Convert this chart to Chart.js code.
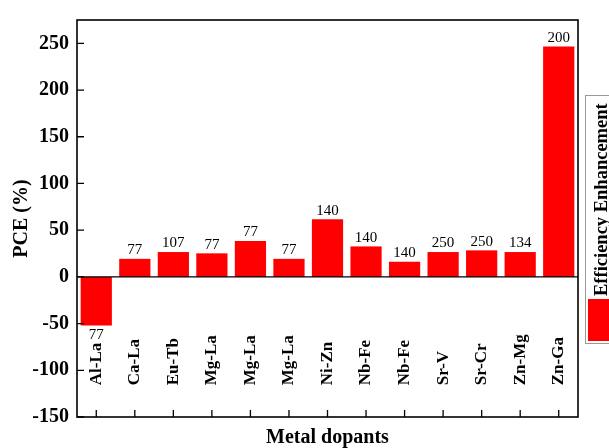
<!DOCTYPE html>
<html>
<head>
<meta charset="utf-8">
<script src="https://cdn.jsdelivr.net/npm/chart.js@4.4.1/dist/chart.umd.min.js"></script>
<style>
  html, body { margin: 0; padding: 0; background: #fff; }
  #wrap { width: 609px; height: 448px; }
</style>
</head>
<body>
<div id="wrap"><canvas id="pce"></canvas></div>
<script>
// dados
const dopants = ['Al-La', 'Ca-La', 'Eu-Tb', 'Mg-La', 'Mg-La', 'Mg-La', 'Ni-Zn', 'Nb-Fe', 'Nb-Fe', 'Sr-V', 'Sr-Cr', 'Zn-Mg', 'Zn-Ga'];
const pceValues = [-52, 19.3, 26.6, 25.2, 38.5, 19.3, 61.7, 32.6, 16.1, 26.6, 28.4, 26.6, 246.6];
const barLabels = ['77', '77', '107', '77', '77', '77', '140', '140', '140', '250', '250', '134', '200'];
const yTicks = [-150, -100, -50, 0, 50, 100, 150, 200, 250];
const seriesName = 'Efficiency Enhancement';

const serif = '"Liberation Serif", "Times New Roman", serif';
const red = 'rgb(255, 0, 0)';

// moldura, linha do zero, ticks para dentro, etiquetas e legenda
const decorPlugin = {
    id: 'decor',
    afterDatasetsDraw(chart) {
        const ctx = chart.ctx;
        const area = chart.chartArea;
        const x = chart.scales.x;
        const y = chart.scales.y;
        ctx.save();

        // linha do zero
        ctx.strokeStyle = '#000';
        ctx.lineWidth = 1.3;
        const y0 = y.getPixelForValue(0);
        ctx.beginPath();
        ctx.moveTo(area.left, y0);
        ctx.lineTo(area.right, y0);
        ctx.stroke();

        // valores por cima / por baixo das barras
        ctx.fillStyle = '#000';
        ctx.font = '15px ' + serif;
        ctx.textAlign = 'center';
        chart.getDatasetMeta(0).data.forEach((bar, i) => {
            if (pceValues[i] >= 0) {
                ctx.textBaseline = 'bottom';
                ctx.fillText(barLabels[i], bar.x, bar.y - 1);
            } else {
                ctx.textBaseline = 'top';
                ctx.fillText(barLabels[i], bar.x, bar.y + 2);
            }
        });

        // nomes das categorias (rodados, dentro do grafico)
        ctx.font = 'bold 17px ' + serif;
        ctx.textAlign = 'left';
        ctx.textBaseline = 'middle';
        const yName = y.getPixelForValue(-116);
        dopants.forEach((name, i) => {
            ctx.save();
            ctx.translate(x.getPixelForValue(i), yName);
            ctx.rotate(-Math.PI / 2);
            ctx.fillText(name, 0, 0);
            ctx.restore();
        });

        // ticks para dentro
        ctx.lineWidth = 1.3;
        ctx.beginPath();
        yTicks.forEach(v => {
            const py = y.getPixelForValue(v);
            ctx.moveTo(area.left, py);
            ctx.lineTo(area.left + 7, py);
        });
        dopants.forEach((d, i) => {
            const px = x.getPixelForValue(i);
            ctx.moveTo(px, area.bottom);
            ctx.lineTo(px, area.bottom - 7);
        });
        ctx.stroke();

        // moldura
        ctx.lineWidth = 1.6;
        ctx.strokeRect(area.left, area.top, area.right - area.left, area.bottom - area.top);

        // legenda (cortada na direita como no original)
        const lx = area.right + 7;
        ctx.strokeStyle = '#999';
        ctx.lineWidth = 1;
        ctx.strokeRect(lx + 0.5, 95.5, 40, 248);
        ctx.fillStyle = red;
        ctx.fillRect(lx + 3, 299, 30, 42);
        ctx.fillStyle = '#000';
        ctx.font = 'bold 18.5px ' + serif;
        ctx.save();
        ctx.translate(lx + 17, 296);
        ctx.rotate(-Math.PI / 2);
        ctx.textAlign = 'left';
        ctx.textBaseline = 'middle';
        ctx.fillText(seriesName, 0, 0);
        ctx.restore();

        ctx.restore();
    }
};

const chart = new Chart(document.getElementById('pce'), {
    type: 'bar',
    data: {
        labels: dopants,
        datasets: [{
            label: seriesName,
            data: pceValues,
            backgroundColor: red,
            borderWidth: 0,
            barPercentage: 0.81,
            categoryPercentage: 1
        }]
    },
    options: {
        responsive: true,
        maintainAspectRatio: false,
        animation: false,
        layout: { padding: { top: 13, right: 31, left: 0, bottom: 0 } },
        plugins: {
            legend: { display: false },
            tooltip: { enabled: false }
        },
        scales: {
            x: {
                grid: { display: false, drawTicks: false },
                border: { display: false },
                ticks: { display: false },
                title: {
                    display: true,
                    text: 'Metal dopants',
                    color: '#000',
                    font: { family: serif, size: 20, weight: 'bold', lineHeight: 1 },
                    padding: { top: 0, bottom: 0 }
                },
                afterFit: (s) => { s.height = 31; }
            },
            y: {
                min: -150,
                max: 275,
                grid: { display: false, drawTicks: false },
                border: { display: false },
                afterBuildTicks: (s) => { s.ticks = yTicks.map(v => ({ value: v })); },
                ticks: {
                    color: '#000',
                    padding: 8,
                    font: { family: serif, size: 20, weight: 'bold' }
                },
                title: {
                    display: true,
                    text: 'PCE (%)',
                    color: '#000',
                    font: { family: serif, size: 20, weight: 'bold', lineHeight: 1 },
                    padding: { top: 12, bottom: 0 }
                },
                afterFit: (s) => { s.width = 77; }
            }
        }
    },
    plugins: [decorPlugin]
});
</script>
</body>
</html>
